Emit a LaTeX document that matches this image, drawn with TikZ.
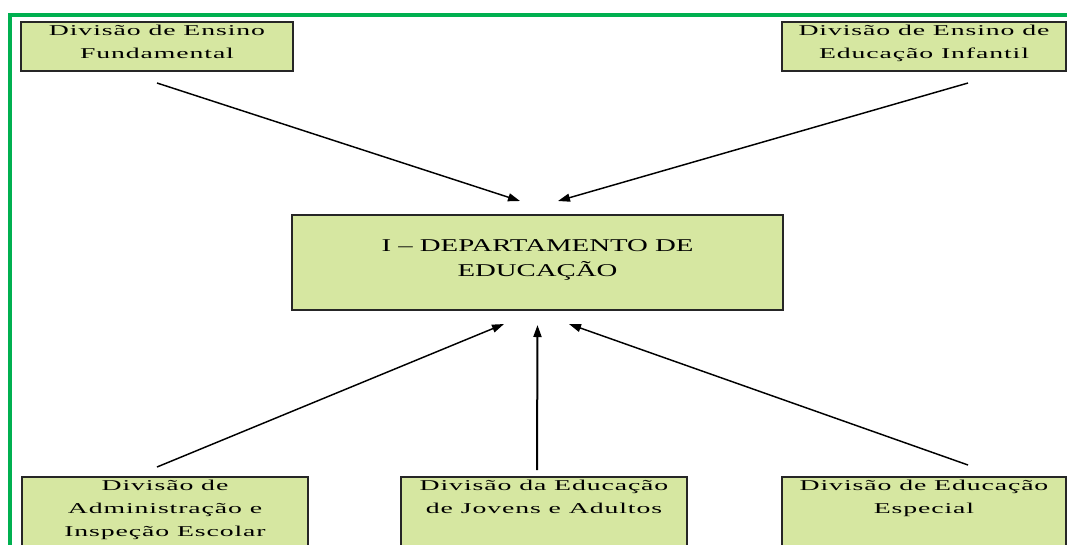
\documentclass[tikz,border=0pt]{standalone}
\usepackage{fontspec}
\usetikzlibrary{arrows.meta, positioning, calc}
\newfontfamily\divfont{Liberation Serif}[FakeStretch=1.85, LetterSpace=6]
\newfontfamily\deptfont{Liberation Serif}[FakeStretch=1.6]
\definecolor{framegreen}{RGB}{0,176,80}
\definecolor{boxgreen}{RGB}{214,231,161}

\begin{document}
\begin{tikzpicture}[
    x=0.75pt, y=-0.75pt, % one unit is one pixel of the reference, y going down
    division/.style={draw=black!85, line width=1.5pt, fill=boxgreen, align=center, inner sep=2pt, font=\divfont\fontsize{11.25pt}{17.25pt}\selectfont},
    topdiv/.style={division, minimum height=36.75pt, text depth=7pt},
    lowdiv/.style={division, anchor=north, text depth=60pt},
    dept/.style={division, minimum width=368.25pt, minimum height=71.25pt, text depth=6pt, font=\deptfont\fontsize{13.5pt}{18.75pt}\selectfont},
    line/.style={draw, -{Triangle[length=9pt, width=6pt]}, line width=1.1pt}, % arrows into the department
    frame/.style={draw=framegreen, line width=3pt}
]
\useasboundingbox (0,0) rectangle (1067,544);

% Green frame, running out of the page on the right and at the bottom
\draw[frame] (9.5,15) rectangle (1090,570);

% Department
\node[dept] (educ) at (537.5,262.5) {I – DEPARTAMENTO DE\\EDUCAÇÃO};

% Top row
\node[topdiv, minimum width=204pt] (fund) at (157,46.5) {Divisão de Ensino\\Fundamental};
\node[topdiv, minimum width=213pt] (infantil) at (924,46.5) {Divisão de Ensino de\\Educação Infantil};

% Bottom row (cut off by the page)
\node[lowdiv, minimum width=214.5pt] (admin) at (165,476) {Divisão de\\Administração e\\Inspeção Escolar};
\node[lowdiv, minimum width=214.5pt] (jovens) at (544,476) {Divisão da Educação\\de Jovens e Adultos};
\node[lowdiv, minimum width=213pt] (especial) at (924,476) {Divisão de Educação\\Especial};

% Arrows
\path[line] ($(fund.south)+(0,11)$) -- ($(educ.north)+(-17.5,-13)$);
\path[line] ($(infantil.south)+(44,11)$) -- ($(educ.north)+(20.5,-13)$);
\path[line] ($(admin.north)+(-8,-9)$) -- ($(educ.south)+(-33.5,13)$);
\path[line, line width=1.5pt] ($(jovens.north)+(-7,-6)$) -- ($(educ.south)+(0,14)$); % straight up
\path[line] ($(especial.north)+(44,-11)$) -- ($(educ.south)+(31.5,13)$);

\end{tikzpicture}
\end{document}
